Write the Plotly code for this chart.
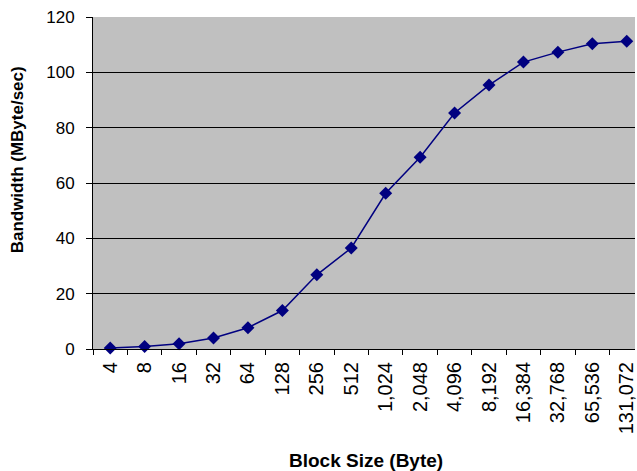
import plotly.graph_objects as go

# Transfer throughput measured for each block size
block_sizes = ["4", "8", "16", "32", "64", "128", "256", "512", "1,024", "2,048",
               "4,096", "8,192", "16,384", "32,768", "65,536", "131,072"]
bandwidth = [0.4, 0.9, 1.9, 4.0, 7.7, 13.9, 26.8, 36.5, 56.3, 69.3,
             85.3, 95.4, 103.7, 107.3, 110.3, 111.2]
y_ticks = [0, 20, 40, 60, 80, 100, 120]

W, H = 637, 471
left, right, top, bottom = 93, 0, 16.5, 121.5
plot_w = W - left - right
plot_h = H - top - bottom

fig = go.Figure()
fig.add_trace(go.Scatter(
    x=block_sizes, y=bandwidth, mode="lines+markers",
    line=dict(color="#000080", width=1.5),
    marker=dict(symbol="diamond", size=10, color="#000080"),
    showlegend=False, cliponaxis=False,
))

font = dict(family="Liberation Sans, Arial, sans-serif", color="black")

fig.update_layout(
    width=W, height=H,
    margin=dict(l=left, r=right, t=top, b=bottom, pad=0),
    paper_bgcolor="white", plot_bgcolor="#C0C0C0",
    font=dict(size=17, **font),
    xaxis=dict(
        type="category", range=[-0.5, 15.24],
        categoryorder="array", categoryarray=block_sizes,
        tickson="boundaries", ticks="outside", ticklen=5, tickcolor="black",
        tickwidth=1, showgrid=False, showline=True, linecolor="black",
        linewidth=1, tickangle=-90, tickfont=dict(size=20, **font),
        ticklabelstandoff=4, zeroline=False,
    ),
    yaxis=dict(
        range=[0, 120], tickvals=y_ticks, ticks="outside", ticklen=6,
        tickcolor="black", tickwidth=1, showgrid=True, gridcolor="black",
        gridwidth=1, showline=True, linecolor="black", linewidth=1,
        zeroline=False, tickfont=dict(size=17, **font), ticklabelstandoff=8,
    ),
    annotations=[
        dict(text="<b>Block Size (Byte)</b>", xref="paper", yref="paper",
             x=(367 - left) / plot_w, y=-(461 - (top + plot_h)) / plot_h,
             xanchor="center", yanchor="middle", showarrow=False,
             font=dict(size=19, **font)),
        dict(text="<b>Bandwidth (MByte/sec)</b>", xref="paper", yref="paper",
             x=(17 - left) / plot_w, y=(H - bottom - 160) / plot_h,
             xanchor="center", yanchor="middle", textangle=-90, showarrow=False,
             font=dict(size=17, **font)),
    ],
)

fig.write_html("out.html")
